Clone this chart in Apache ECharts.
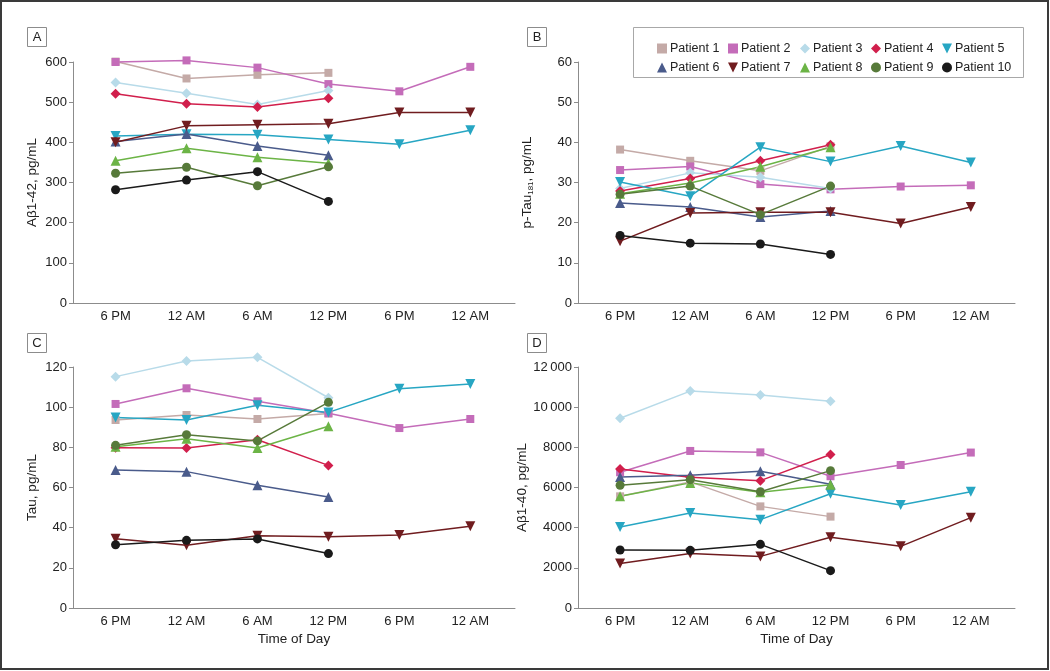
<!DOCTYPE html>
<html>
<head>
<meta charset="utf-8">
<script src="https://cdn.jsdelivr.net/npm/echarts@6/dist/echarts.min.js"></script>
<style>
  html, body { margin: 0; padding: 0; background: #fff; }
  #chart { width: 1050px; height: 671px; }
</style>
</head>
<body>
<div id="chart"></div>
<script>
// ---- data ----
const times = ['6 PM', '12 AM', '6 AM', '12 PM', '6 PM', '12 AM'];
const patients = ['Patient 1', 'Patient 2', 'Patient 3', 'Patient 4', 'Patient 5',
                  'Patient 6', 'Patient 7', 'Patient 8', 'Patient 9', 'Patient 10'];

// Panel A: Aβ1-42, pg/mL
const abeta42 = [
  [601, 559, 568, 573],
  [600, 604, 586, 545, 527, 588],
  [549, 522, 494, 529],
  [521, 496, 488, 510],
  [416, 420, 419, 407, 395, 430],
  [402, 421, 391, 368],
  [400, 441, 444, 446, 474, 474],
  [354, 385, 363, 348],
  [323, 338, 292, 339],
  [282, 306, 327, 253]
];
// Panel B: p-Tau181, pg/mL
const pTau181 = [
  [38.2, 35.4, 32.9, 39.0],
  [33.1, 34.0, 29.6, 28.3, 29.0, 29.3],
  [28.5, 32.4, 31.3, 28.5],
  [27.9, 31.0, 35.4, 39.4],
  [30.1, 26.6, 38.8, 35.2, 39.1, 35.0],
  [24.9, 23.9, 21.4, 22.9],
  [15.4, 22.4, 22.6, 22.6, 19.8, 23.9],
  [27.2, 29.9, 33.9, 38.8],
  [27.1, 29.1, 22.0, 29.1],
  [16.8, 14.9, 14.7, 12.1]
];
// Panel C: Tau, pg/mL
const tau = [
  [93.6, 96.1, 94.1, 96.8],
  [101.6, 109.4, 102.9, 97.0, 89.6, 94.1],
  [115.2, 123.0, 124.8, 104.7],
  [79.8, 79.7, 83.8, 71.0],
  [94.8, 93.6, 100.9, 97.4, 109.2, 111.5],
  [68.7, 67.9, 61.1, 55.3],
  [34.5, 31.2, 36.0, 35.5, 36.3, 40.7],
  [80.3, 84.3, 79.7, 90.5],
  [81.0, 86.3, 83.2, 102.4],
  [31.5, 33.7, 34.4, 27.1]
];
// Panel D: Aβ1-40, pg/mL
const abeta40 = [
  [5560, 6280, 5060, 4550],
  [6760, 7820, 7750, 6560, 7120, 7740],
  [9450, 10800, 10600, 10300],
  [6920, 6510, 6340, 7640],
  [4030, 4730, 4400, 5690, 5130, 5790],
  [6520, 6610, 6810, 6160],
  [2210, 2710, 2570, 3520, 3070, 4500],
  [5560, 6230, 5760, 6140],
  [6110, 6390, 5790, 6840],
  [2890, 2870, 3170, 1860]
];

// ---- styles ----
const DOWN = 'path://M0,0L10,0L5,10Z';
const colors = ['#c4aaa7', '#c46cb9', '#b8dbe9', '#d11f4c', '#27a6c3',
                '#4a5b8b', '#701c1f', '#6cb446', '#577a3a', '#1a1a1a'];
const symbols = ['rect', 'rect', 'diamond', 'diamond', DOWN,
                 'triangle', DOWN, 'triangle', 'circle', 'circle'];
const symSizes = [8, 8, 10, 10, 10, 10, 10, 10, 9, 9];

const FONT = "'Liberation Sans', Arial, sans-serif";
const AXIS_COLOR = '#8c8c8c';
const TEXT_COLOR = '#222';

const panels = [
  { letter: 'A', data: abeta42, max: 600, interval: 100,
    name: 'Aβ1-42, pg/mL', grid: { left: 73, top: 62, width: 442, height: 241 }, nameGap: 34, xName: '' },
  { letter: 'B', data: pTau181, max: 60, interval: 10,
    name: '{a|p-Tau}{s|181}{a|, pg/mL}', grid: { left: 578, top: 62, width: 437, height: 241 }, nameGap: 43, xName: '' },
  { letter: 'C', data: tau, max: 120, interval: 20,
    name: 'Tau, pg/mL', grid: { left: 73, top: 367, width: 442, height: 241 }, nameGap: 34, xName: 'Time of Day' },
  { letter: 'D', data: abeta40, max: 12000, interval: 2000,
    name: 'Aβ1-40, pg/mL', grid: { left: 578, top: 367, width: 437, height: 241 }, nameGap: 40, xName: 'Time of Day' }
];
const letterBoxes = [[27, 27], [527, 27], [27, 333], [527, 333]];

function fmtY(v) {
  const s = String(v);
  return v >= 10000 ? s.replace(/(\d+)(\d{3})$/, '$1\u2009$2') : s;
}

const grids = [], xAxes = [], yAxes = [], series = [];
panels.forEach((p, i) => {
  grids.push(Object.assign({ containLabel: false }, p.grid));
  xAxes.push({
    gridIndex: i, type: 'value', min: -0.6, max: 5.63,
    axisLine: { show: true, onZero: false, lineStyle: { color: AXIS_COLOR, width: 1 } },
    axisTick: { show: false }, splitLine: { show: false },
    axisLabel: {
      customValues: [0, 1, 2, 3, 4, 5],
      formatter: v => times[Math.round(v)],
      color: TEXT_COLOR, fontSize: 13, fontFamily: FONT, margin: 7
    },
    name: p.xName, nameLocation: 'middle', nameGap: 24,
    nameTextStyle: { color: TEXT_COLOR, fontSize: 13.5, fontFamily: FONT }
  });
  yAxes.push({
    gridIndex: i, type: 'value', min: 0, max: p.max, interval: p.interval,
    axisLine: { show: true, onZero: false, lineStyle: { color: AXIS_COLOR, width: 1 } },
    axisTick: { show: true, length: 4, lineStyle: { color: AXIS_COLOR } },
    splitLine: { show: false },
    axisLabel: { color: TEXT_COLOR, fontSize: 13, fontFamily: FONT, margin: 6, formatter: fmtY },
    name: p.name, nameLocation: 'middle', nameGap: p.nameGap,
    nameTextStyle: {
      color: TEXT_COLOR, fontSize: 13.5, fontFamily: FONT,
      rich: {
        a: { fontSize: 13.5, fontFamily: FONT, color: TEXT_COLOR },
        s: { fontSize: 8, fontFamily: FONT, color: TEXT_COLOR, padding: [7, 0, 0, 0] }
      }
    }
  });
  p.data.forEach((vals, k) => {
    series.push({
      type: 'line', name: patients[k], xAxisIndex: i, yAxisIndex: i,
      data: vals.map((v, j) => [j, v]),
      symbol: symbols[k], symbolSize: symSizes[k], showSymbol: true,
      clip: false,
      itemStyle: { color: colors[k], borderWidth: 0 },
      lineStyle: { color: colors[k], width: 1.5 },
      emphasis: { disabled: true },
      animation: false
    });
  });
});

// legend: 5 columns x 2 rows
const legendLefts = [652, 723, 795, 866, 937];
const legends = legendLefts.map((left, c) => ({
  left: left, top: 37, orient: 'vertical', itemGap: 6,
  itemWidth: 10, itemHeight: 10, selectedMode: false,
  textStyle: { color: TEXT_COLOR, fontSize: 12.5, fontFamily: FONT, padding: [0, 0, 0, -2] },
  data: [c, c + 5].map(k => ({ name: patients[k], icon: symbols[k] }))
}));

const graphics = [
  { type: 'rect', shape: { x: 1, y: 1, width: 1047, height: 668 },
    style: { fill: null, stroke: '#3a3a3a', lineWidth: 2 }, silent: true, z: 100 },
  { type: 'rect', shape: { x: 633.5, y: 27.5, width: 390, height: 50 },
    style: { fill: null, stroke: '#a8a8a8', lineWidth: 1 }, silent: true }
];
panels.forEach((p, i) => {
  const [bx, by] = letterBoxes[i];
  graphics.push({ type: 'rect', shape: { x: bx + 0.5, y: by + 0.5, width: 19, height: 19 },
    style: { fill: '#fff', stroke: '#8c8c8c', lineWidth: 1 }, silent: true });
  graphics.push({ type: 'text', x: bx + 10, y: by + 10.5,
    style: { text: p.letter, fill: TEXT_COLOR, font: '13px ' + FONT, align: 'center', verticalAlign: 'middle' },
    silent: true });
});

const chart = echarts.init(document.getElementById('chart'), null, { renderer: 'canvas' });
chart.setOption({
  backgroundColor: '#fff',
  animation: false,
  grid: grids, xAxis: xAxes, yAxis: yAxes, series: series,
  legend: legends, graphic: graphics
});
</script>
</body>
</html>
